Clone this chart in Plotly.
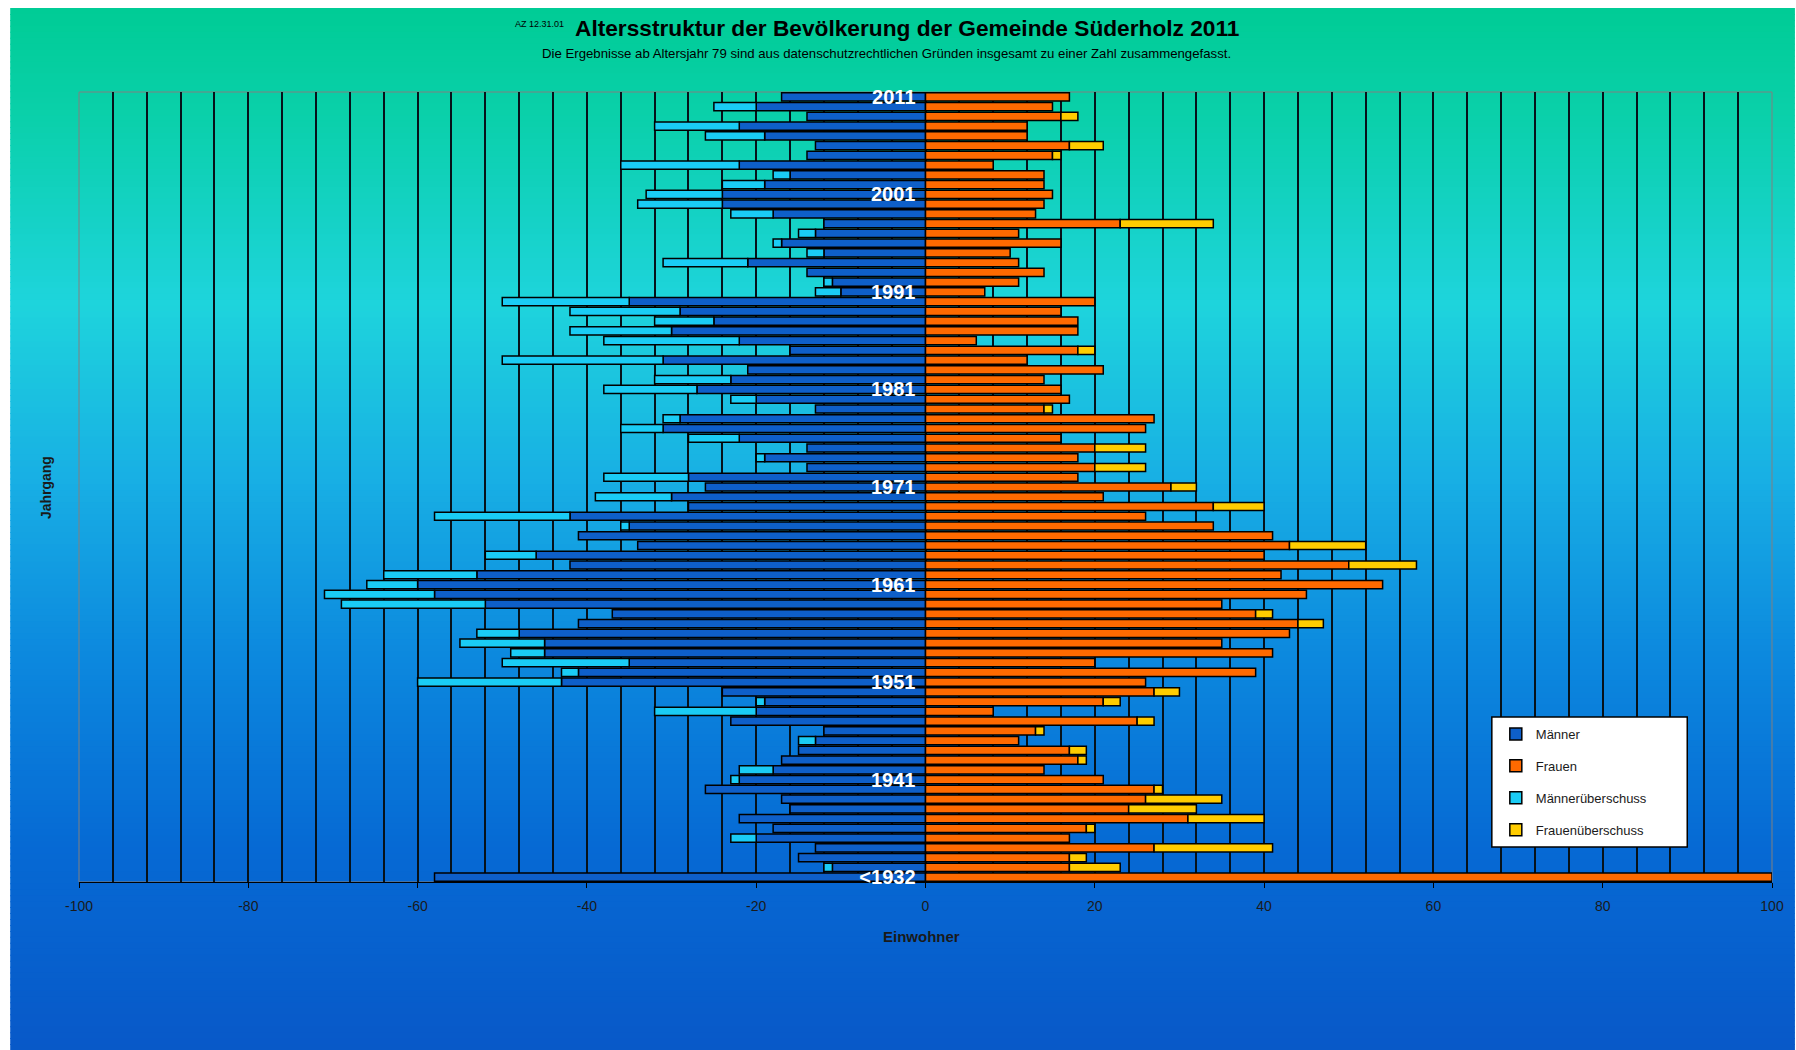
import plotly.graph_objects as go

# Jahrgänge von oben (2011) nach unten (<1932)
jahrgang = [str(j) for j in range(2011, 1931, -1)] + ["<1932"]

maenner = [17, 20, 14, 22, 19, 13, 14, 22, 16, 19,
           24, 24, 18, 12, 13, 17, 12, 21, 14, 11,
           10, 35, 29, 25, 30, 22, 16, 31, 21, 23,
           27, 20, 13, 29, 31, 22, 14, 19, 14, 28,
           26, 30, 28, 42, 35, 41, 34, 46, 42, 53,
           60, 58, 52, 37, 41, 48, 45, 45, 35, 41,
           43, 24, 19, 20, 23, 12, 13, 15, 17, 18,
           22, 26, 17, 16, 22, 18, 20, 13, 15, 11,
           58]
maenner_ueberschuss = [0, 5, 0, 10, 7, 0, 0, 14, 2, 5,
                       9, 10, 5, 0, 2, 1, 2, 10, 0, 1,
                       3, 15, 13, 7, 12, 16, 0, 19, 0, 9,
                       11, 3, 0, 2, 5, 6, 0, 1, 0, 10,
                       0, 9, 0, 16, 1, 0, 0, 6, 0, 11,
                       6, 13, 17, 0, 0, 5, 10, 4, 15, 2,
                       17, 0, 1, 12, 0, 0, 2, 0, 0, 4,
                       1, 0, 0, 0, 0, 0, 3, 0, 0, 1,
                       0]
frauen = [17, 15, 16, 12, 12, 17, 15, 8, 14, 14,
          15, 14, 13, 23, 11, 16, 10, 11, 14, 11,
          7, 20, 16, 18, 18, 6, 18, 12, 21, 14,
          16, 17, 14, 27, 26, 16, 20, 18, 20, 18,
          29, 21, 34, 26, 34, 41, 43, 40, 50, 42,
          54, 45, 35, 39, 44, 43, 35, 41, 20, 39,
          26, 27, 21, 8, 25, 13, 11, 17, 18, 14,
          21, 27, 26, 24, 31, 19, 17, 27, 17, 17,
          100]
frauen_ueberschuss = [0, 0, 2, 0, 0, 4, 1, 0, 0, 0,
                      0, 0, 0, 11, 0, 0, 0, 0, 0, 0,
                      0, 0, 0, 0, 0, 0, 2, 0, 0, 0,
                      0, 0, 1, 0, 0, 0, 6, 0, 6, 0,
                      3, 0, 6, 0, 0, 0, 9, 0, 8, 0,
                      0, 0, 0, 2, 3, 0, 0, 0, 0, 0,
                      0, 3, 2, 0, 2, 1, 0, 2, 1, 0,
                      0, 1, 9, 8, 9, 1, 0, 14, 2, 6,
                      0]

beschriftete_jahrgaenge = ["2011", "2001", "1991", "1981", "1971", "1961", "1951", "1941", "<1932"]
x_ticks = [-100, -80, -60, -40, -20, 0, 20, 40, 60, 80, 100]
x_ticktext = ["-100", "-80", "-60", "-40", "-20", "0", "20", "40", "60", "80", "100"]

W, H = 1796, 1050
ML, MR, MT, MB = 79, 19, 92, 168
PW, PH = W - ML - MR, H - MT - MB


def px_x(p):
    return (p - ML) / PW


def px_y(p):
    return (H - MB - p) / PH


def seg(values, sign=1):
    return [sign * v if v else None for v in values]


linie = dict(color="black", width=1.5)
fig = go.Figure()
fig.add_trace(go.Bar(y=jahrgang, x=seg(maenner, -1), orientation="h", name="Männer",
                     marker=dict(color="#0E5FC9", line=linie), legendgroup="a"))
fig.add_trace(go.Bar(y=jahrgang, x=seg(frauen), orientation="h", name="Frauen",
                     marker=dict(color="#FF6A00", line=linie), legendgroup="b"))
fig.add_trace(go.Bar(y=jahrgang, x=seg(maenner_ueberschuss, -1), orientation="h",
                     name="Männerüberschuss",
                     marker=dict(color="#1ACCF5", line=linie), legendgroup="c"))
fig.add_trace(go.Bar(y=jahrgang, x=seg(frauen_ueberschuss), orientation="h",
                     name="Frauenüberschuss",
                     marker=dict(color="#FFCC00", line=linie), legendgroup="d"))

# Hintergrund-Verlauf als schmale Streifen
stops = [(0.00, (0, 204, 150)), (0.10, (10, 208, 170)), (0.28, (30, 212, 220)),
         (0.45, (24, 175, 228)), (0.62, (12, 136, 222)), (0.80, (6, 106, 212)),
         (1.00, (8, 88, 200))]


def farbe(t):
    for (t0, c0), (t1, c1) in zip(stops, stops[1:]):
        if t <= t1:
            f = (t - t0) / (t1 - t0)
            return "rgb(%d,%d,%d)" % tuple(round(a + (b - a) * f) for a, b in zip(c0, c1))
    return "rgb(%d,%d,%d)" % stops[-1][1]


shapes = []
top, n = 8, 175
step = (H - top) / n
for i in range(n):
    y0 = top + i * step
    shapes.append(dict(type="rect", xref="paper", yref="paper", layer="below",
                       x0=px_x(10), x1=px_x(W + 4), y0=px_y(y0), y1=px_y(y0 + step + 1),
                       fillcolor=farbe((y0 - top) / (H - top)), line=dict(width=0)))
shapes.append(dict(type="rect", xref="paper", yref="paper", layer="below",
                   x0=0, x1=1, y0=0, y1=1, line=dict(color="#808080", width=1)))
shapes.append(dict(type="rect", xref="paper", yref="paper", layer="above",
                   x0=px_x(1496), x1=px_x(1692), y0=px_y(717), y1=px_y(847),
                   fillcolor="white", line=dict(color="black", width=1.5)))

font = "Liberation Sans, Arial, sans-serif"
annotations = [
    dict(text="AZ 12.31.01", x=px_x(514), y=px_y(24), xanchor="left", yanchor="middle",
         font=dict(size=9, color="black", family=font)),
    dict(text="<b>Altersstruktur der Bevölkerung der Gemeinde Süderholz 2011</b>",
         x=px_x(909), y=px_y(28), xanchor="center", yanchor="middle",
         font=dict(size=22.7, color="black", family=font)),
    dict(text="Die Ergebnisse ab Altersjahr 79 sind aus datenschutzrechtlichen Gründen "
              "insgesamt zu einer Zahl zusammengefasst.",
         x=px_x(889), y=px_y(54), xanchor="center", yanchor="middle",
         font=dict(size=13.2, color="black", family="Liberation Sans Narrow, " + font)),
    dict(text="<b>Einwohner</b>", x=px_x(924), y=px_y(937), xanchor="center", yanchor="middle",
         font=dict(size=15, color="#1a1a1a", family=font)),
    dict(text="<b>Jahrgang</b>", x=px_x(46), y=px_y(488), textangle=-90,
         xanchor="center", yanchor="middle",
         font=dict(size=14, color="#1a1a1a", family=font)),
]
for a in annotations:
    a.update(xref="paper", yref="paper", showarrow=False)

gitter = "#06121a"
fig.update_layout(
    width=W, height=H,
    margin=dict(l=ML, r=MR, t=MT, b=MB),
    paper_bgcolor="white", plot_bgcolor="rgba(0,0,0,0)",
    barmode="relative", bargap=0.16,
    shapes=shapes, annotations=annotations,
    showlegend=True,
    legend=dict(x=px_x(1500), y=px_y(719), xanchor="left", yanchor="top",
                bgcolor="rgba(0,0,0,0)", borderwidth=0, tracegroupgap=12,
                traceorder="grouped",
                font=dict(size=13, color="#1a1a1a", family=font)),
    xaxis=dict(range=[-100, 100], tickmode="array", tickvals=x_ticks, ticktext=x_ticktext,
               showgrid=True, gridcolor=gitter, gridwidth=1.6, zeroline=False,
               ticks="outside", ticklen=5, tickcolor="black",
               showline=True, linecolor="black", linewidth=1.3,
               ticklabelstandoff=6,
               tickfont=dict(size=14, color="#1a1a1a", family=font),
               minor=dict(dtick=4, tick0=0, showgrid=True, gridcolor=gitter,
                          gridwidth=1.6, ticks="")),
    yaxis=dict(type="category", autorange="reversed", anchor="free", position=0.5,
               side="left", showgrid=False, zeroline=False, showline=False,
               tickmode="array", tickvals=beschriftete_jahrgaenge,
               ticktext=beschriftete_jahrgaenge,
               ticks="outside", ticklen=6, tickcolor="rgba(0,0,0,0)",
               tickfont=dict(size=20, color="white", family="Liberation Sans Narrow, " + font,
                             weight="bold")),
)

# page without the default body margin, so the figure fills the window exactly
fig.write_html("out.html", config={"displayModeBar": False},
               post_script="document.body.style.margin='0';document.body.style.overflow='hidden';")
